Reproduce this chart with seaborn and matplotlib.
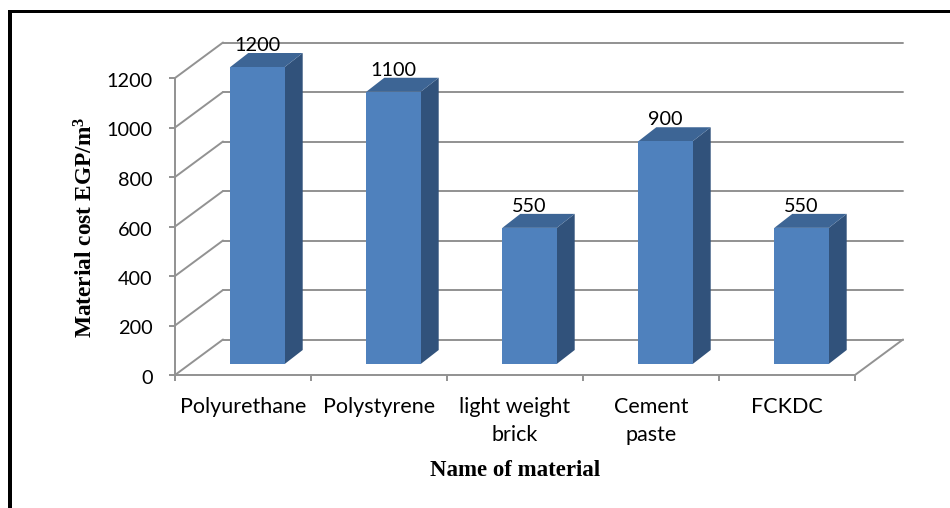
import matplotlib
matplotlib.use("Agg")
import matplotlib.pyplot as plt
from matplotlib.patches import Polygon, Rectangle
from matplotlib.transforms import Affine2D
import pandas as pd
import seaborn as sns

categories = ["Polyurethane", "Polystyrene", "light weight\nbrick", "Cement\npaste", "FCKDC"]
costs = [1200, 1100, 550, 900, 550]
y_ticks = [0, 200, 400, 600, 800, 1000, 1200]
x_title = "Name of material"
y_title = r"Material cost EGP/m$\mathbf{^3}$"

GRID = "#929292"
FRONT = "#4f81bd"
TOP = "#3d6595"
SIDE = "#31527b"

sns.set_style("white")
plt.rcParams["font.family"] = ["Lato", "DejaVu Sans"]
plt.rcParams["mathtext.fontset"] = "custom"
plt.rcParams["mathtext.bf"] = "Liberation Serif:bold"
plt.rcParams["mathtext.rm"] = "Liberation Serif:bold"

W, H = 950, 508
fig = plt.figure(figsize=(W / 100, H / 100), dpi=100, facecolor="white")
ax = fig.add_axes([175 / W, (H - 375) / H, 680 / W, 297 / H])

df = pd.DataFrame({"material": categories, "cost": costs})
sns.barplot(data=df, x="material", y="cost", color=FRONT, saturation=1, width=0.4, ax=ax, zorder=3)
ax.set_xlim(-0.5, 4.5)
ax.set_ylim(0, 1200)
ax.set_facecolor("none")

# pixel to data conversions for the pseudo-3D depth
px_x = 5 / 680
px_y = 1200 / 297
wall_dx, wall_dy = 48 * px_x, 35.5 * px_y
bar_shift = ax.transData + Affine2D().translate(14.5, 11)
depth_dx, depth_dy = 18 * px_x, 14 * px_y

# back wall, side wall and floor
for v in y_ticks:
    ax.plot([-0.5 + wall_dx, 4.5 + wall_dx], [v + wall_dy] * 2, color=GRID, lw=1.4, clip_on=False, zorder=1)
    ax.plot([-0.5, -0.5 + wall_dx], [v, v + wall_dy], color=GRID, lw=1.4, clip_on=False, zorder=1)
ax.plot([4.5, 4.5 + wall_dx], [0, wall_dy], color=GRID, lw=1.4, clip_on=False, zorder=1)

# bars with their side and top faces
for patch, value in zip(ax.patches, costs):
    patch.set_transform(bar_shift)
    patch.set_clip_on(False)
    patch.set_linewidth(0)
    x0 = patch.get_x()
    x1 = x0 + patch.get_width()
    ax.add_patch(Polygon([(x1, 0), (x1 + depth_dx, depth_dy), (x1 + depth_dx, value + depth_dy), (x1, value)],
                         closed=True, fc=SIDE, ec="none", transform=bar_shift, clip_on=False, zorder=2.5))
    ax.add_patch(Polygon([(x0, value), (x1, value), (x1 + depth_dx, value + depth_dy), (x0 + depth_dx, value + depth_dy)],
                         closed=True, fc=TOP, ec="none", transform=bar_shift, clip_on=False, zorder=2.5))
    ax.text((x0 + x1) / 2, value, f"{value}", transform=bar_shift + Affine2D().translate(0, 16),
            ha="center", va="baseline", fontsize=14.3, color="black", zorder=5, clip_on=False)

for side in ("top", "right"):
    ax.spines[side].set_visible(False)
for side in ("left", "bottom"):
    ax.spines[side].set_color(GRID)
    ax.spines[side].set_linewidth(1.4)
    ax.spines[side].set_zorder(1)

ax.set_yticks(y_ticks)
ax.tick_params(axis="y", left=True, length=4.5, width=1.4, color=GRID, labelsize=14.3, labelcolor="black", pad=11.5)
ax.set_xticks(range(len(categories)), categories, linespacing=1.55)
ax.set_xticks([i - 0.5 for i in range(len(categories) + 1)], minor=True)
ax.tick_params(axis="x", which="major", bottom=False, length=0, labelsize=15.5, labelcolor="black", pad=15.5)
ax.tick_params(axis="x", which="minor", bottom=True, length=4.5, width=1.4, color=GRID)
for label in ax.get_xticklabels():
    label.set_va("top")
fig.canvas.draw()
for label in ax.get_yticklabels():
    label.set_transform(label.get_transform() + Affine2D().translate(0, -2))
ax.set_xlabel("")
ax.set_ylabel("")

fig.text(515 / W, (H - 471) / H, x_title, family="Liberation Serif", weight="bold", fontsize=16.5,
         ha="center", va="center", color="black")
fig.text(86 / W, (H - 227) / H, y_title, family="Liberation Serif", weight="bold", fontsize=16.8,
         rotation=90, ha="center", va="center", color="black")

# page frame cropped at the right and bottom
fig.add_artist(Rectangle((8 / W, 0), 4 / W, (H - 10) / H, transform=fig.transFigure, fc="black", ec="none"))
fig.add_artist(Rectangle((8 / W, (H - 13.3) / H), (W - 8) / W, 3.3 / H, transform=fig.transFigure, fc="black", ec="none"))

fig.savefig("out.png", dpi=100)
